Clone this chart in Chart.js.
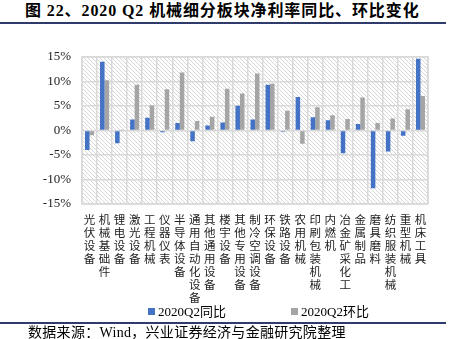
<!DOCTYPE html>
<html><head><meta charset="utf-8">
<script src="https://cdn.jsdelivr.net/npm/chart.js@4"></script>
<style>
body{margin:0;width:450px;height:339px;position:relative;background:#fff;overflow:hidden;font-family:"Liberation Serif","Noto Sans CJK SC",serif;color:#000;}
#title{position:absolute;left:25px;top:1px;font-size:16px;font-weight:bold;letter-spacing:0.9px;white-space:nowrap;line-height:20px;font-family:"Liberation Serif","Noto Sans CJK SC",serif;}
.rule{position:absolute;left:0;width:446px;height:2px;background:#2e3b6b;}
#wrap{position:absolute;left:0;top:38px;width:450px;height:280px;}
#legend{position:absolute;top:305px;left:0;width:450px;height:14px;font-size:13px;line-height:14px;}
.li{position:absolute;top:0;white-space:nowrap;}
.sq{display:inline-block;width:7px;height:7px;margin-right:3px;vertical-align:1px;}
#source{position:absolute;left:28px;top:325px;font-size:14px;line-height:15px;white-space:nowrap;letter-spacing:0.3px;}
</style></head>
<body>
<div id="title">图 22、2020 Q2 机械细分板块净利率同比、环比变化</div>
<div class="rule" style="top:22px"></div>
<div id="wrap"><canvas id="c"></canvas></div>
<div id="legend">
  <div class="li" style="left:148px"><span class="sq" style="background:#4472C4"></span>2020Q2同比</div>
  <div class="li" style="left:291px"><span class="sq" style="background:#A5A5A5"></span>2020Q2环比</div>
</div>
<div class="rule" style="top:322px"></div>
<div id="source">数据来源：Wind，兴业证券经济与金融研究院整理</div>
<script>
const categories = ["光伏设备","机械基础件","锂电设备","激光设备","工程机械","仪器仪表","半导体设备","通用自动化设备","其他通用设备","楼宇设备","其他专用设备","制冷空调设备","环保设备","铁路设备","农用机械","印刷包装机械","内燃机","冶金矿采化工","金属制品","磨具磨料","纺织服装机械","重型机械","机床工具"];
const seriesNames = ["2020Q2同比","2020Q2环比"];
const yoy = [-4.0,14.0,-2.6,2.2,2.6,-0.4,1.5,-2.2,1.0,1.6,5.0,2.2,9.3,-0.25,6.8,2.7,2.05,-4.65,1.3,-11.8,-4.3,-1.1,14.6];
const qoq = [-1.0,10.2,0.05,9.3,5.1,8.4,11.8,1.9,2.8,8.5,7.5,11.6,9.5,4.0,-2.7,4.7,3.1,2.3,6.7,1.5,2.4,4.3,7.0];
const yMin = -15, yMax = 15, yStep = 5;

function makePattern(){
  const p = document.createElement('canvas');
  p.width = 4; p.height = 4;
  const g = p.getContext('2d');
  g.fillStyle = '#ffffff'; g.fillRect(0,0,4,4);
  g.strokeStyle = '#d6d6d6'; g.lineWidth = 1;
  g.beginPath();
  g.moveTo(-1,-1); g.lineTo(5,5);
  g.moveTo(-1,3); g.lineTo(1,5);
  g.moveTo(3,-1); g.lineTo(5,1);
  g.stroke();
  return p;
}
const bgPlugin = {
  id:'bg',
  beforeDraw(chart){
    const {ctx, chartArea:a} = chart;
    ctx.save();
    ctx.fillStyle = ctx.createPattern(makePattern(),'repeat');
    ctx.fillRect(a.left,a.top,a.right-a.left,a.bottom-a.top);
    ctx.restore();
  },
  afterDatasetsDraw(chart){
    const {ctx, chartArea:a} = chart;
    ctx.save();
    ctx.strokeStyle = '#d9d9d9'; ctx.lineWidth = 1.5;
    ctx.strokeRect(a.left,a.top,a.right-a.left,a.bottom-a.top);
    ctx.restore();
  }
};

new Chart(document.getElementById('c'), {
  type:'bar',
  data:{
    labels: categories.map(c => c.split('')),
    datasets:[
      {label:seriesNames[0], data:yoy, backgroundColor:'#4472C4'},
      {label:seriesNames[1], data:qoq, backgroundColor:'#A5A5A5'}
    ]
  },
  options:{
    responsive:true, maintainAspectRatio:false, animation:false,
    layout:{padding:{top:9,right:22,left:0,bottom:0}},
    datasets:{bar:{categoryPercentage:0.6, barPercentage:1.0}},
    plugins:{legend:{display:false}, tooltip:{enabled:false}},
    scales:{
      x:{
        grid:{color:'#d9d9d9', lineWidth:1.5, drawTicks:false, offset:true},
        border:{display:false},
        ticks:{maxRotation:0, minRotation:0, autoSkip:false, padding:9, color:'#222',
          font:{family:'"Noto Sans CJK SC"', size:11.5, lineHeight:1.13}},
        afterFit(s){ s.height = 114; }
      },
      y:{
        min:yMin, max:yMax,
        grid:{color:'#d9d9d9', lineWidth:1.5, drawTicks:false},
        border:{display:false},
        ticks:{stepSize:yStep, padding:11, color:'#222',
          font:{family:'"Liberation Serif"', size:13},
          callback:v => v + '%'},
        afterFit(s){ s.width = 82; }
      }
    }
  },
  plugins:[bgPlugin]
});
</script>
</body></html>
